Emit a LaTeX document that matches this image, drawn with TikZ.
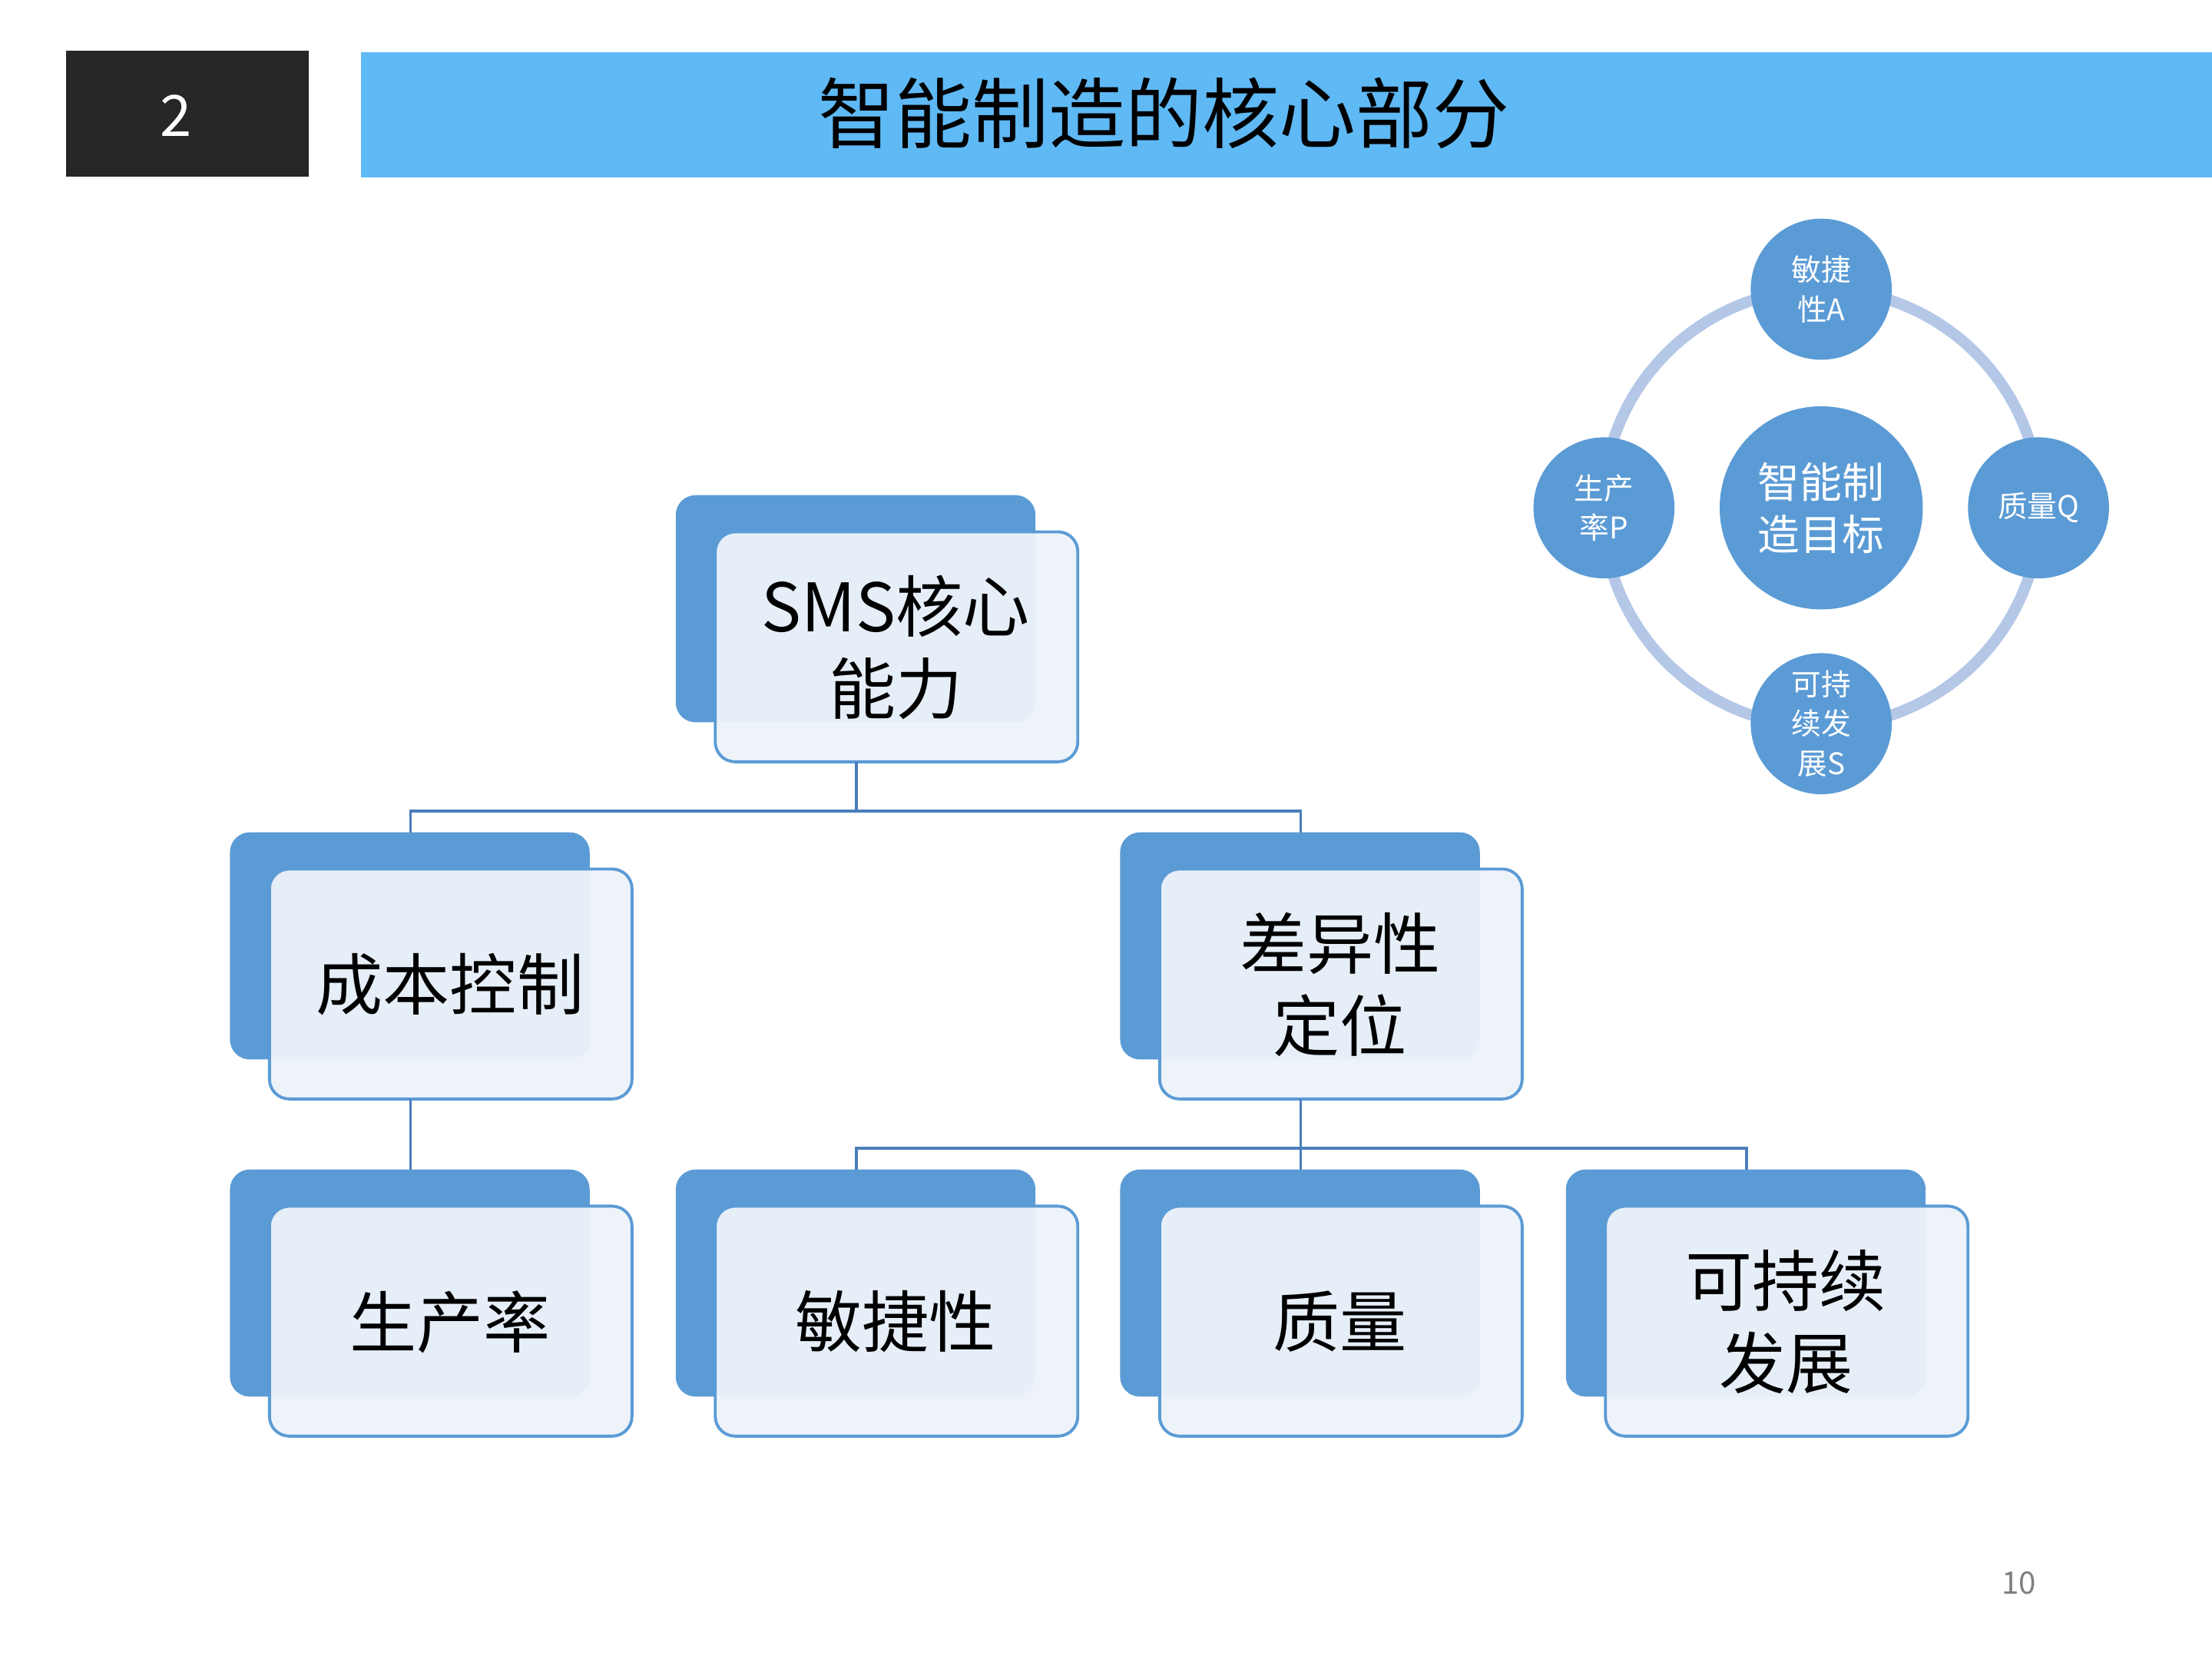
\documentclass[tikz,border=0pt]{standalone}
\usepackage{fontspec}
\setmainfont{Noto Sans CJK SC}
\newfontfamily\cjk{Noto Sans CJK SC}
\newfontfamily\cjklight{Noto Sans CJK SC Light}
\definecolor{dblue}{HTML}{5B9BD5}
\definecolor{lblue}{HTML}{EEF3FA}
\definecolor{band}{HTML}{5FB9F5}
\definecolor{ring}{HTML}{B4C7E7}
\definecolor{conn}{HTML}{4A7EBB}
\begin{document}
\begin{tikzpicture}[x=0.02cm,y=-0.02cm,
 backbox/.style={fill=dblue,rounded corners=8pt},
 frontbox/.style={fill=lblue,fill opacity=0.95,draw=dblue,line width=1.2pt,rounded corners=8pt},
 lbl/.style={align=center,font=\cjk\fontsize{27}{33}\selectfont,inner sep=0pt},
 conline/.style={draw=conn,line width=1.2pt},
 sc/.style={circle,fill=dblue,minimum size=100*0.02cm,inner sep=0pt,align=center,text=white,font=\cjk\fontsize{12}{16}\selectfont}]
\useasboundingbox (0,0) rectangle (1568,1176);
\fill[white] (0,0) rectangle (1568,1176);
\fill[fill={rgb,255:red,38;green,38;blue,38}] (47,36) rectangle (219,125);
\node[text=white,font=\fontsize{23}{26}\selectfont] (num) at (125,82) {2};
\fill[band] (256,37) rectangle (1568,126);
\node[font=\cjk\fontsize{31}{36}\selectfont] (title) at (825,80) {智能制造的核心部分};
% boxes
\newcommand{\tbox}[4]{% x y name text
 \fill[backbox] (#1,#2) rectangle ++(255,161);
 \draw[frontbox] (#1+28,#2+26) rectangle ++(257,163);
 \node[lbl] (#3) at (#1+156,#2+108) {#4};
 \coordinate (#3top) at (#1+128,#2);
 \coordinate (#3bot) at (#1+128,#2+189);}
\tbox{479}{351}{sms}{SMS核心\\能力}
\tbox{163}{590}{cost}{成本控制}
\tbox{794}{590}{diff}{差异性\\定位}
\tbox{163}{829}{prod}{生产率}
\tbox{479}{829}{agil}{敏捷性}
\tbox{794}{829}{qual}{质量}
\tbox{1110}{829}{sust}{可持续\\发展}
\draw[conline] (smsbot) -- ++(0,35) -| (costtop);
\draw[conline] (smsbot) ++(0,35) -| (difftop);
\draw[conline] (costbot) -- (prodtop);
\draw[conline] (diffbot) -- (qualtop);
\draw[conline] (diffbot) ++(0,35) -| (agiltop);
\draw[conline] (diffbot) ++(0,35) -| (susttop);
% ring
\draw[draw=ring,line width=4.5pt] (1291,360) circle (155);
\node[sc] (a) at (1291,205) {敏捷\\性A};
\node[sc] (q) at (1445,360) {质量Q};
\node[sc] (s) at (1291,513) {可持\\续发\\展S};
\node[sc] (p) at (1137,360) {生产\\率P};
\node[sc,minimum size=144*0.02cm,font=\cjk\fontsize{17}{21}\selectfont] (g) at (1291,360) {智能制\\造目标};
\node[text=gray,font=\fontsize{12.5}{14}\selectfont] (pg) at (1431,1122) {10};
\end{tikzpicture}
\end{document}
